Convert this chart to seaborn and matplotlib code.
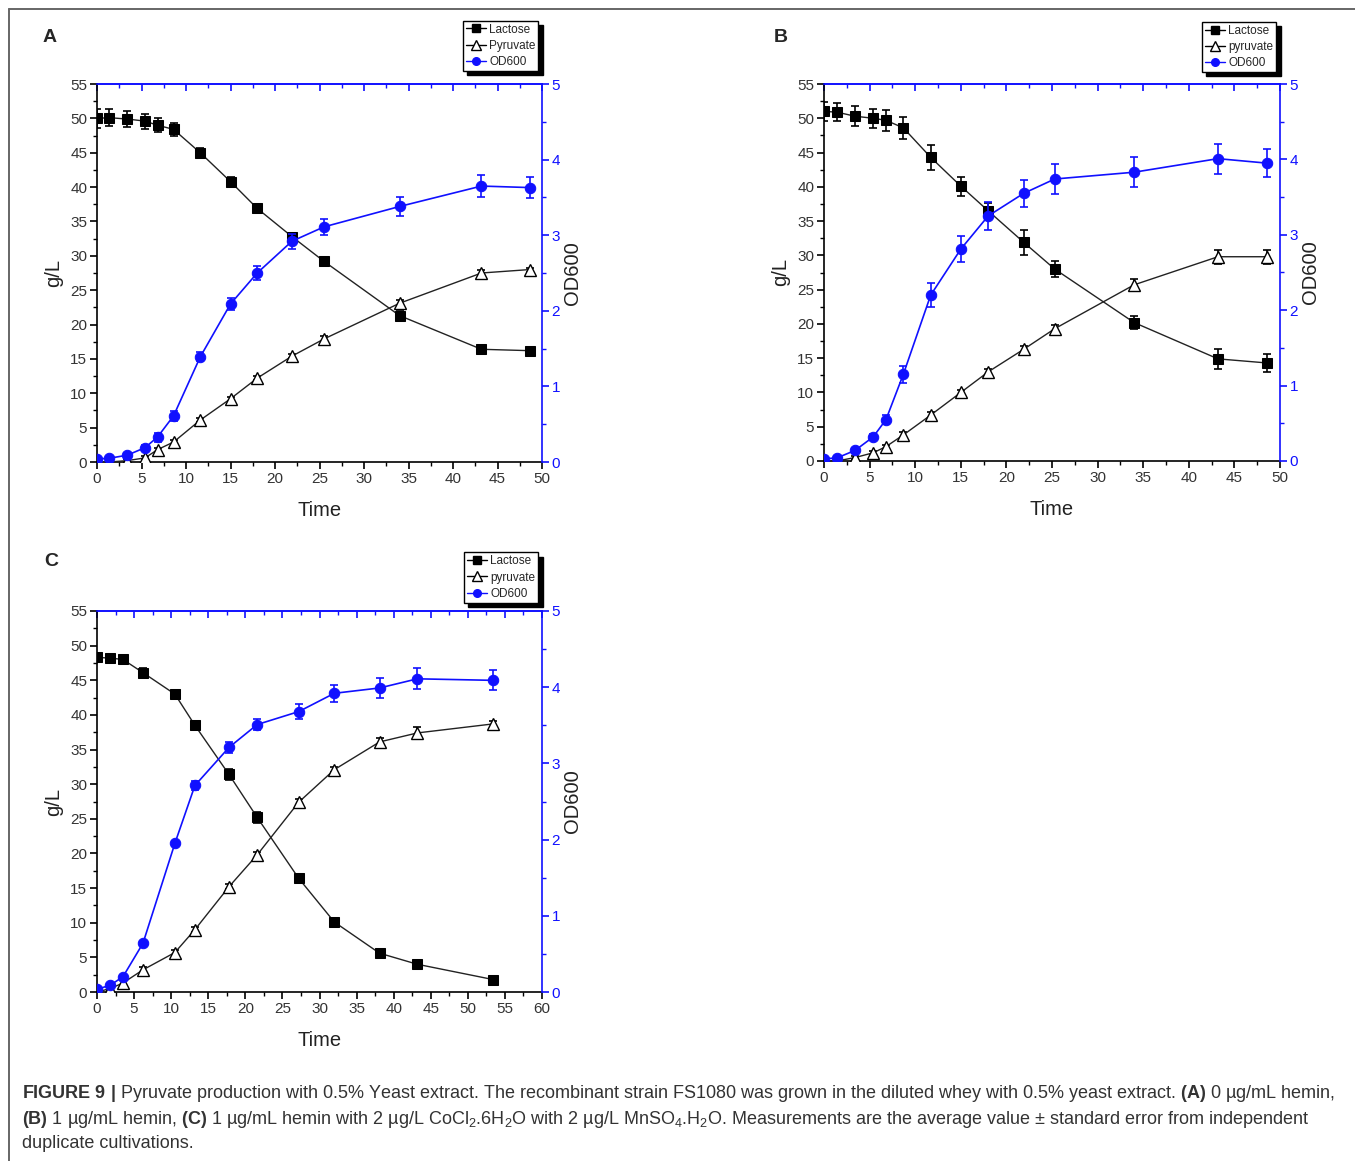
import numpy as np
import pandas as pd
import matplotlib
matplotlib.use("Agg")
import matplotlib.pyplot as plt
import seaborn as sns
from matplotlib.lines import Line2D
from matplotlib.ticker import MultipleLocator

# ---------------- data ----------------
tA = [0, 1.4, 3.4, 5.4, 6.8, 8.6, 11.6, 15.0, 18.0, 21.9, 25.5, 34.0, 43.2, 48.6]
lacA = [50.0, 50.1, 49.9, 49.6, 49.0, 48.4, 45.0, 40.8, 36.9, 32.8, 29.2, 21.3, 16.4, 16.2]
lacA_err = [1.4, 1.2, 1.2, 1.1, 1.0, 0.9, 0.75, 0.7, 0.65, 0.5, 0.55, 0.7, 0.3, 0.3]
pyrA = [0.0, 0.0, 0.2, 0.6, 1.8, 2.9, 6.1, 9.2, 12.2, 15.4, 17.9, 23.1, 27.5, 28.0]
pyrA_err = [0.1, 0.1, 0.2, 0.3, 0.3, 0.3, 0.3, 0.3, 0.3, 0.3, 0.4, 0.4, 0.4, 0.3]
odA = [0.04, 0.05, 0.09, 0.19, 0.33, 0.61, 1.39, 2.09, 2.50, 2.92, 3.11, 3.38, 3.65, 3.63]
odA_err = [0.02, 0.02, 0.03, 0.04, 0.06, 0.07, 0.06, 0.075, 0.09, 0.1, 0.11, 0.12, 0.14, 0.14]

tB = [0, 1.4, 3.4, 5.4, 6.8, 8.7, 11.7, 15.0, 18.0, 21.9, 25.3, 34.0, 43.2, 48.6]
lacB = [51.0, 50.9, 50.3, 50.0, 49.7, 48.6, 44.3, 40.1, 36.5, 31.9, 28.0, 20.2, 14.9, 14.3]
lacB_err = [1.4, 1.3, 1.5, 1.4, 1.5, 1.6, 1.85, 1.4, 1.2, 1.85, 1.2, 1.0, 1.5, 1.3]
pyrB = [0.0, 0.0, 0.5, 1.2, 2.1, 3.8, 6.7, 10.0, 13.0, 16.3, 19.3, 25.7, 29.8, 29.8]
pyrB_err = [0.1, 0.1, 0.3, 0.3, 0.3, 0.4, 0.4, 0.4, 0.4, 0.5, 0.6, 0.9, 1.0, 1.0]
odB = [0.03, 0.04, 0.14, 0.32, 0.55, 1.15, 2.20, 2.81, 3.25, 3.55, 3.74, 3.83, 4.01, 3.95]
odB_err = [0.02, 0.02, 0.03, 0.04, 0.06, 0.11, 0.16, 0.17, 0.19, 0.18, 0.2, 0.2, 0.2, 0.19]

tC = [0, 1.8, 3.5, 6.2, 10.5, 13.2, 17.8, 21.6, 27.2, 32.0, 38.1, 43.2, 53.4]
lacC = [48.3, 48.2, 48.0, 46.1, 43.0, 38.5, 31.4, 25.2, 16.4, 10.1, 5.6, 4.0, 1.8]
lacC_err = [0.4, 0.4, 0.5, 0.6, 0.6, 0.6, 0.8, 0.8, 0.7, 0.3, 0.6, 0.3, 0.3]
pyrC = [0.0, 0.5, 1.3, 3.2, 5.7, 9.0, 15.2, 19.8, 27.4, 32.1, 36.1, 37.4, 38.7]
pyrC_err = [0.1, 0.2, 0.4, 0.4, 0.4, 0.4, 0.4, 0.4, 0.4, 0.4, 0.6, 0.8, 0.4]
odC = [0.035, 0.09, 0.20, 0.64, 1.95, 2.71, 3.21, 3.51, 3.68, 3.92, 3.99, 4.11, 4.09]
odC_err = [0.01, 0.02, 0.02, 0.03, 0.03, 0.065, 0.07, 0.07, 0.1, 0.11, 0.13, 0.14, 0.13]

legendA = ["Lactose", "Pyruvate", "OD600"]
legendB = ["Lactose", "pyruvate", "OD600"]
legendC = ["Lactose", "pyruvate", "OD600"]

# ---------------- style ----------------
sns.set_style("ticks")
plt.rcParams['font.family'] = ['Liberation Sans', 'DejaVu Sans']
plt.rcParams['mathtext.fontset'] = 'custom'
plt.rcParams['mathtext.rm'] = 'Liberation Sans'
plt.rcParams['mathtext.bf'] = 'Liberation Sans:bold'
plt.rcParams['mathtext.it'] = 'Liberation Sans:italic'

BLUE = '#1010ff'
GREY = '#333333'

W, H = 1355, 1161
fig = plt.figure(figsize=(W / 100, H / 100), dpi=100)


def px_axes(l, t, r, b):
    return fig.add_axes([l / W, 1 - b / H, (r - l) / W, (b - t) / H])


def panel(ax, t, lac, lac_e, pyr, pyr_e, od, od_e, xmax, labels, leg_box):
    df = pd.DataFrame({'t': t, 'lac': lac, 'pyr': pyr, 'od': od})
    ax2 = ax.twinx()

    # error bars
    ax.errorbar(df['t'], df['lac'], yerr=lac_e, fmt='none', ecolor='black',
                elinewidth=1.2, capsize=3.2, capthick=1.2, zorder=2)
    ax.errorbar(df['t'], df['pyr'], yerr=pyr_e, fmt='none', ecolor='black',
                elinewidth=1.2, capsize=3.2, capthick=1.2, zorder=2)
    ax2.errorbar(df['t'], df['od'], yerr=od_e, fmt='none', ecolor=BLUE,
                 elinewidth=1.2, capsize=3.2, capthick=1.2, zorder=2)

    sns.lineplot(data=df, x='t', y='lac', ax=ax, color='#222222', lw=1.0,
                 marker='s', markersize=7.5, markeredgecolor='black',
                 markerfacecolor='black', sort=False, zorder=3)
    sns.lineplot(data=df, x='t', y='pyr', ax=ax, color='#222222', lw=1.0,
                 marker='^', markersize=8.5, markeredgecolor='black',
                 markerfacecolor='white', markeredgewidth=1.0, sort=False, zorder=3)
    sns.lineplot(data=df, x='t', y='od', ax=ax2, color=BLUE, lw=1.2,
                 marker='o', markersize=7.5, markeredgecolor=BLUE,
                 markerfacecolor=BLUE, sort=False, zorder=3)
    ax.set_xlim(0, xmax)
    ax.set_ylim(0, 55)
    ax2.set_ylim(0, 5)

    # left / bottom axes
    ax.xaxis.set_major_locator(MultipleLocator(5))
    ax.xaxis.set_minor_locator(MultipleLocator(2.5))
    ax.yaxis.set_major_locator(MultipleLocator(5))
    ax.yaxis.set_minor_locator(MultipleLocator(2.5))
    ax.tick_params(axis='both', which='major', direction='out', length=5,
                   width=1.2, labelsize=11, labelcolor=GREY, color='black', pad=2)
    ax.tick_params(axis='both', which='minor', direction='out', length=3,
                   width=1.0, color='black')
    for s in ['left', 'bottom']:
        ax.spines[s].set_color('black')
        ax.spines[s].set_linewidth(1.2)
    for s in ['top', 'right']:
        ax.spines[s].set_visible(False)

    # right axis
    ax2.yaxis.set_major_locator(MultipleLocator(1))
    ax2.yaxis.set_minor_locator(MultipleLocator(0.5))
    ax2.tick_params(axis='y', which='major', direction='out', length=5,
                    width=1.2, labelsize=11, labelcolor=BLUE, color=BLUE, pad=2)
    ax2.tick_params(axis='y', which='minor', direction='out', length=3,
                    width=1.0, color=BLUE)
    ax2.spines['right'].set_color(BLUE)
    ax2.spines['right'].set_linewidth(1.2)
    ax2.spines['top'].set_color(BLUE)
    ax2.spines['top'].set_linewidth(1.2)
    ax2.spines['left'].set_visible(False)
    ax2.spines['bottom'].set_visible(False)

    # top axis ticks (inward, blue)
    sec = ax.secondary_xaxis('top')
    sec.xaxis.set_major_locator(MultipleLocator(5))
    sec.xaxis.set_minor_locator(MultipleLocator(2.5))
    sec.tick_params(axis='x', which='major', direction='in', length=5, width=1.2,
                    color=BLUE, labeltop=False)
    sec.tick_params(axis='x', which='minor', direction='in', length=3, width=1.0,
                    color=BLUE)
    sec.spines['top'].set_color(BLUE)
    sec.spines['top'].set_linewidth(1.2)

    ax.set_xlabel('Time', fontsize=14.5, color='#222222', labelpad=11)
    ax.set_ylabel('g/L', fontsize=14.5, color='#222222', labelpad=5)
    ax2.set_ylabel('OD600', fontsize=14.5, color='#222222', labelpad=2)

    handles = [
        Line2D([], [], color='black', lw=1, marker='s', markersize=5.5),
        Line2D([], [], color='black', lw=1, marker='^', markersize=7,
               markerfacecolor='white'),
        Line2D([], [], color=BLUE, lw=1, marker='o', markersize=5.5),
    ]
    leg = ax2.legend(handles, labels, loc='lower right', bbox_to_anchor=leg_box,
                     bbox_transform=ax.transAxes, fontsize=8.5, frameon=True,
                     fancybox=False, shadow={'color': 'black', 'alpha': 1, 'ox': 3, 'oy': -3},
                     handlelength=1.7, handletextpad=0.3, labelspacing=0.35,
                     borderpad=0.25, borderaxespad=0.0)
    leg.get_frame().set_edgecolor('black')
    leg.get_frame().set_linewidth(1.0)
    leg.get_frame().set_alpha(1)
    return ax, ax2


axA = px_axes(97, 84, 542, 462)
panel(axA, tA, lacA, lacA_err, pyrA, pyrA_err, odA, odA_err, 50, legendA, (0.992, 1.035))
axB = px_axes(824, 84, 1280, 461)
panel(axB, tB, lacB, lacB_err, pyrB, pyrB_err, odB, odB_err, 50, legendB, (0.992, 1.032))
axC = px_axes(97, 611, 542, 992)
panel(axC, tC, lacC, lacC_err, pyrC, pyrC_err, odC, odC_err, 60, legendC, (0.992, 1.022))

# panel letters
for lbl, x, y in [('A', 43, 37), ('B', 774, 37), ('C', 44, 561)]:
    fig.text(x / W, 1 - y / H, lbl, fontsize=14, fontweight='bold', va='center', ha='left')

# outer frame
fig.add_artist(Line2D([8.5 / W, 8.5 / W], [0, 1 - 8.5 / H], color='#666666', lw=1.4,
                      transform=fig.transFigure))
fig.add_artist(Line2D([8.5 / W, 1], [1 - 8.5 / H, 1 - 8.5 / H], color='#666666', lw=1.4,
                      transform=fig.transFigure))

# caption
cap1 = (r"$\mathbf{FIGURE\ 9\ |}$ Pyruvate production with 0.5% Yeast extract. The recombinant strain "
        r"FS1080 was grown in the diluted whey with 0.5% yeast extract. $\mathbf{(A)}$ 0 µg/mL hemin,")
cap2 = (r"$\mathbf{(B)}$ 1 µg/mL hemin, $\mathbf{(C)}$ 1 µg/mL hemin with 2 µg/L CoCl$_2$.6H$_2$O "
        r"with 2 µg/L MnSO$_4$.H$_2$O. Measurements are the average value ± standard error from independent")
cap3 = "duplicate cultivations."
for txt, y in [(cap1, 1094), (cap2, 1119), (cap3, 1144)]:
    fig.text(22 / W, 1 - y / H, txt, fontsize=13, color='#333333', va='center', ha='left')

fig.savefig('out.png', dpi=100)
